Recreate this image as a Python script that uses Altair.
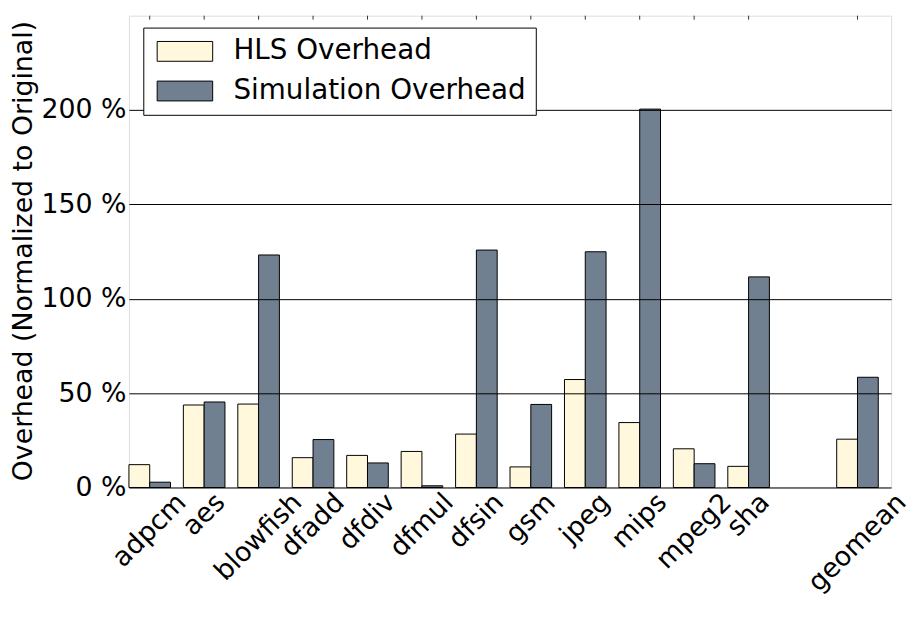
import altair as alt
import pandas as pd

# ---- data ----
benchmarks = ["adpcm", "aes", "blowfish", "dfadd", "dfdiv", "dfmul", "dfsin",
              "gsm", "jpeg", "mips", "mpeg2", "sha", "geomean"]
hls_overhead = [12.1, 43.7, 44.2, 15.8, 17.0, 19.1, 28.3, 10.9, 57.2, 34.4, 20.5, 11.2, 25.6]
sim_overhead = [2.8, 45.3, 123.2, 25.4, 13.0, 0.9, 125.8, 44.0, 124.9, 200.5, 12.6, 111.6, 58.4]
series = ["HLS Overhead", "Simulation Overhead"]
colors = ["#FFF8DC", "#708090"]
y_ticks = [0, 50, 100, 150, 200]

FONT = "DejaVu Sans"
FS = 27
W, H = 769, 476

# x domain with an empty slot before geomean
x_domain = benchmarks[:-1] + [" "] + benchmarks[-1:]

rows = []
for b, h, s in zip(benchmarks, hls_overhead, sim_overhead):
    rows.append({"bench": b, "series": series[0], "value": h})
    rows.append({"bench": b, "series": series[1], "value": s})
df = pd.DataFrame(rows)

# approximate DejaVu Sans advance widths (em) to place rotated labels like matplotlib
char_w = {"a": .613, "b": .635, "c": .550, "d": .635, "e": .615, "f": .352, "g": .635,
          "h": .634, "i": .278, "j": .278, "l": .278, "m": .974, "n": .634, "o": .612,
          "p": .635, "s": .521, "u": .634, "v": .592, "w": .818, "2": .636}
lab_df = pd.DataFrame({
    "bench": benchmarks,
    "w": [sum(char_w.get(c, .6) for c in b) * FS for b in benchmarks],
})

x_scale = alt.Scale(domain=x_domain, paddingInner=0, paddingOuter=0)

bars = alt.Chart(df).mark_bar(stroke="black", strokeWidth=1).encode(
    x=alt.X("bench:N", sort=x_domain, scale=x_scale,
            axis=alt.Axis(labels=False, ticks=False, domain=False, title="Benchmarks",
                          titleFont=FONT, titleFontSize=FS, titleFontWeight="normal",
                          titleColor="black", titleBaseline="alphabetic", titleY=137)),
    xOffset=alt.XOffset("series:N",
                        scale=alt.Scale(domain=series, paddingInner=0, paddingOuter=0.309, align=0)),
    y=alt.Y("value:Q", scale=alt.Scale(domain=[0, 250], nice=False),
            axis=alt.Axis(values=y_ticks, labelExpr="datum.value + ' %'",
                          labelFont=FONT, labelFontSize=FS, labelColor="black",
                          labelPadding=3, ticks=False, tickSize=0, domain=False,
                          grid=True, gridColor="black", gridWidth=1, gridOpacity=1,
                          title="Overhead (Normalized to Original)", titleFont=FONT,
                          titleFontSize=FS, titleFontWeight="normal", titleColor="black",
                          titleBaseline="alphabetic", titleX=-98.5, titleY=237, zindex=1)),
    color=alt.Color("series:N", scale=alt.Scale(domain=series, range=colors),
                    legend=alt.Legend(orient="none", legendX=14.5, legendY=12, title=None,
                                      direction="vertical", fillColor="white",
                                      strokeColor="black", padding=10, cornerRadius=0,
                                      symbolType="M-1,-1H4.6V1H-1Z", symbolSize=400,
                                      symbolStrokeColor="black", symbolStrokeWidth=1,
                                      symbolOpacity=1, labelFont=FONT, labelFontSize=28,
                                      labelColor="black", labelOffset=53, labelLimit=0,
                                      rowPadding=12, zindex=2)),
)

# small inward tick marks on the top frame, as in the reference
top_ticks = alt.Chart(lab_df).mark_rule(color="#333333", strokeWidth=1).encode(
    x=alt.X("bench:N", scale=x_scale, bandPosition=0.382, axis=None),
    y=alt.value(0),
    y2=alt.value(4),
)

labels = alt.Chart(lab_df).mark_text(font=FONT, fontSize=FS, angle=315, align="center",
                                     baseline="middle", color="black").encode(
    x=alt.X("bench:N", scale=x_scale, bandPosition=0.382, axis=None),
    y=alt.value({"expr": f"{H} + 11 + 0.3536 * datum.w"}),
    text="bench:N",
)

chart = alt.layer(bars, top_ticks, labels).properties(
    width=W, height=H,
    autosize=alt.AutoSizeParams(type="none"),
    padding={"left": 122, "top": 5, "right": 15, "bottom": 138},
).configure_view(stroke="black", strokeWidth=1).configure(background="white")

chart.save("out.html", embed_options={"renderer": "svg", "actions": False})
